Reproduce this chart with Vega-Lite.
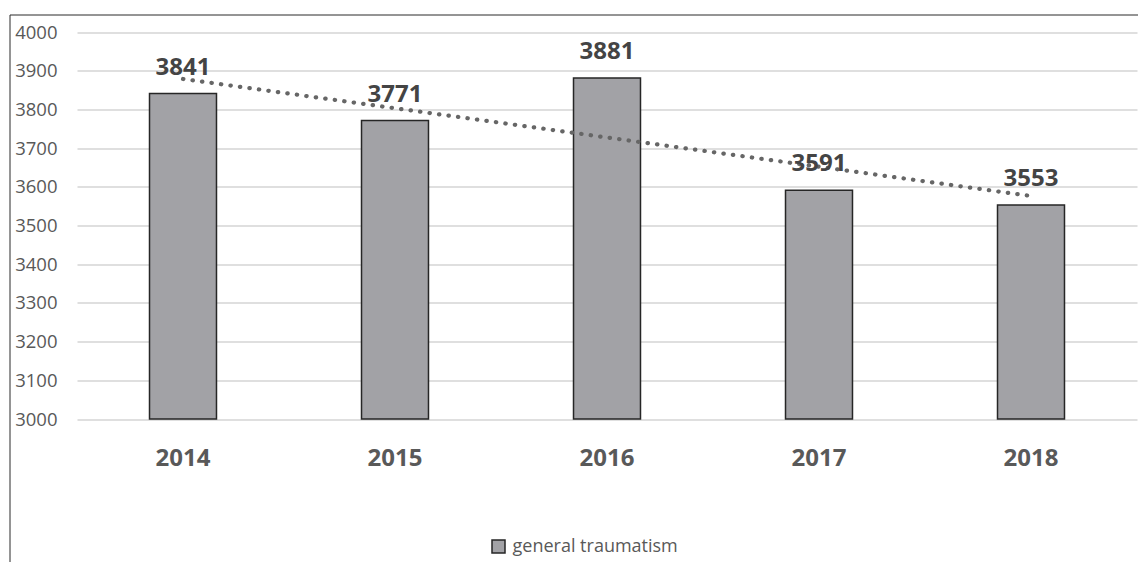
{
  "$schema": "https://vega.github.io/schema/vega-lite/v6.json",
  "width": 1131,
  "height": 550,
  "autosize": {"type": "none"},
  "padding": {"left": 9.5, "top": 14.5, "right": -2.5, "bottom": -2.5},
  "background": "white",
  "config": {
    "view": {"stroke": "#2b2b2b", "strokeWidth": 1},
    "font": "Open Sans"
  },
  "data": {
    "values": [
      {"year": 2014, "value": 3841, "series": "general traumatism"},
      {"year": 2015, "value": 3771, "series": "general traumatism"},
      {"year": 2016, "value": 3881, "series": "general traumatism"},
      {"year": 2017, "value": 3591, "series": "general traumatism"},
      {"year": 2018, "value": 3553, "series": "general traumatism"}
    ]
  },
  "encoding": {
    "x": {
      "field": "year",
      "type": "ordinal",
      "scale": {"range": [67.5, 1127.5], "paddingInner": 0.684, "paddingOuter": 0.342},
      "axis": {
        "title": null,
        "domain": false,
        "ticks": false,
        "tickSize": 0,
        "labelPadding": 27,
        "offset": -145.5,
        "labelAngle": 0,
        "labelFont": "Open Sans",
        "labelFontSize": 24,
        "labelFontWeight": "bold",
        "labelColor": "#595959"
      }
    }
  },
  "layer": [
    {
      "mark": {"type": "bar", "stroke": "#262626", "strokeWidth": 1.5},
      "encoding": {
        "y": {
          "field": "value",
          "type": "quantitative",
          "scale": {"domain": [3000, 4000], "range": [404.5, 17.5], "nice": false, "zero": false},
          "axis": {
            "title": null,
            "format": "d",
            "domain": false,
            "ticks": false,
            "tickSize": 0,
            "labelPadding": 0,
            "offset": -47.5,
            "values": [3000, 3100, 3200, 3300, 3400, 3500, 3600, 3700, 3800, 3900, 4000],
            "grid": true,
            "gridColor": "#d5d5d5",
            "gridWidth": 1.3,
            "labelFont": "Open Sans",
            "labelFontSize": 18.5,
            "labelColor": "#595959",
            "labelFlush": false,
            "labelOverlap": false
          }
        },
        "y2": {"datum": 3000},
        "fill": {
          "field": "series",
          "type": "nominal",
          "scale": {"range": ["#a2a2a6"]},
          "legend": {
            "title": null,
            "orient": "none",
            "legendX": 480,
            "legendY": 523,
            "padding": 0,
            "symbolType": "square",
            "symbolSize": 169,
            "symbolStrokeColor": "#262626",
            "symbolStrokeWidth": 1.5,
            "labelFont": "Open Sans",
            "labelFontSize": 18,
            "labelColor": "#595959",
            "labelOffset": 5,
            "labelLimit": 400
          }
        }
      }
    },
    {
      "transform": [{"regression": "value", "on": "year"}],
      "mark": {"type": "line", "color": "#666666", "strokeWidth": 4.2, "strokeCap": "round", "strokeDash": [0.4, 9.17]},
      "encoding": {
        "y": {"field": "value", "type": "quantitative"}
      }
    },
    {
      "mark": {"type": "text", "font": "Open Sans", "fontSize": 24, "fontWeight": "bold", "color": "#444444", "baseline": "alphabetic", "align": "center", "dy": -19},
      "encoding": {
        "y": {"field": "value", "type": "quantitative"},
        "text": {"field": "value", "type": "quantitative", "format": "d"}
      }
    }
  ]
}
